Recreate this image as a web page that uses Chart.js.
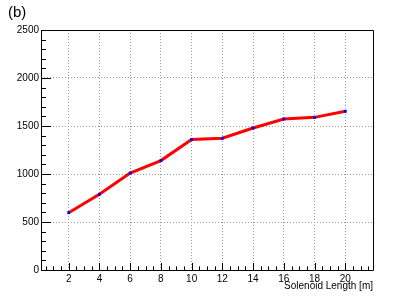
<!DOCTYPE html>
<html>
<head>
<meta charset="utf-8">
<script src="https://cdn.jsdelivr.net/npm/chart.js@4"></script>
<style>
    html, body { margin: 0; padding: 0; background: #fff; }
    #wrap { position: relative; width: 415px; height: 300px; }
</style>
</head>
<body>
<div id="wrap"><canvas id="solenoidCanvas" width="415" height="300"></canvas></div>
<script>
const lengths = [2, 4, 6, 8, 10, 12, 14, 16, 18, 20];
const values = [597, 789, 1010, 1140, 1360, 1372, 1479, 1573, 1590, 1653];
const xTicks = [2, 4, 6, 8, 10, 12, 14, 16, 18, 20];
const yTicks = [0, 500, 1000, 1500, 2000, 2500];
const xMinorStep = 0.5;
const yMinorStep = 100;

const fontFamily = "'Liberation Sans', Arial, sans-serif";

// ROOT-like frame with inside ticks
const framePlugin = {
    id: "frame",
    afterDatasetsDraw(chart) {
        const ctx = chart.ctx;
        const area = chart.chartArea;
        const xs = chart.scales.x;
        const ys = chart.scales.y;
        ctx.save();
        ctx.strokeStyle = "#000";
        ctx.lineWidth = 1;
        ctx.beginPath();
        for (let v = 0.5; v < xs.max; v += xMinorStep) {
            const px = Math.round(xs.getPixelForValue(v)) + 0.5;
            const len = xTicks.includes(v) ? 7 : 3.6;
            ctx.moveTo(px, area.bottom);
            ctx.lineTo(px, area.bottom - len);
        }
        for (let v = 0; v <= ys.max; v += yMinorStep) {
            const py = Math.round(ys.getPixelForValue(v)) + 0.5;
            const len = v % 500 === 0 ? 10 : 5;
            ctx.moveTo(area.left, py);
            ctx.lineTo(area.left + len, py);
        }
        ctx.stroke();
        ctx.beginPath();
        ctx.rect(Math.round(area.left) + 0.5, Math.round(area.top) + 0.5,
            Math.round(area.right - area.left), Math.round(area.bottom - area.top));
        ctx.stroke();
        ctx.fillStyle = "#000";
        ctx.font = "15px " + fontFamily;
        ctx.textBaseline = "top";
        ctx.fillText("(b)", 8, 5);
        ctx.restore();
    },
};

const data = {
    datasets: [
        {
            label: "solenoid",
            data: lengths.map((x, i) => ({ x: x, y: values[i] })),
            borderColor: "rgb(255, 0, 0)",
            borderWidth: 3,
            pointStyle: "rect",
            pointRadius: 2,
            pointBackgroundColor: "rgb(0, 0, 255)",
            pointBorderColor: "rgb(0, 0, 255)",
            pointBorderWidth: 0,
            tension: 0,
        },
    ],
};

const gridOpts = {
    color: (c) => (c.tick && c.tick.value > 0 && c.tick.value < 2500 ? "#999" : "rgba(0,0,0,0)"),
    lineWidth: 1,
    drawTicks: false,
};

const config = {
    type: "line",
    data: data,
    options: {
        responsive: false,
        animation: false,
        layout: { padding: { top: 30, right: 42, left: 0, bottom: 0 } },
        plugins: { legend: { display: false }, tooltip: { enabled: false } },
        scales: {
            x: {
                type: "linear",
                min: 0.2,
                max: 21.8,
                afterBuildTicks: (scale) => {
                    scale.ticks = xTicks.map((v) => ({ value: v }));
                },
                afterFit: (scale) => {
                    scale.height = 30;
                },
                grid: gridOpts,
                border: { display: false, dash: [1, 2] },
                ticks: {
                    padding: 3,
                    color: "#000",
                    font: { family: fontFamily, size: 10 },
                    maxRotation: 0,
                    callback: (v) => String(v),
                },
                title: {
                    display: true,
                    text: "Solenoid Length [m]",
                    align: "end",
                    color: "#000",
                    font: { family: fontFamily, size: 10 },
                    padding: { top: 0, bottom: 8 },
                },
            },
            y: {
                type: "linear",
                min: 0,
                max: 2500,
                afterBuildTicks: (scale) => {
                    scale.ticks = yTicks.map((v) => ({ value: v }));
                },
                afterFit: (scale) => {
                    scale.width = 41;
                },
                grid: gridOpts,
                border: { display: false, dash: [1, 2] },
                ticks: {
                    padding: 2,
                    color: "#000",
                    font: { family: fontFamily, size: 10 },
                    callback: (v) => String(v),
                },
            },
        },
    },
    plugins: [framePlugin],
};

window.onload = function () {
    new Chart(document.getElementById("solenoidCanvas"), config);
};
</script>
</body>
</html>
